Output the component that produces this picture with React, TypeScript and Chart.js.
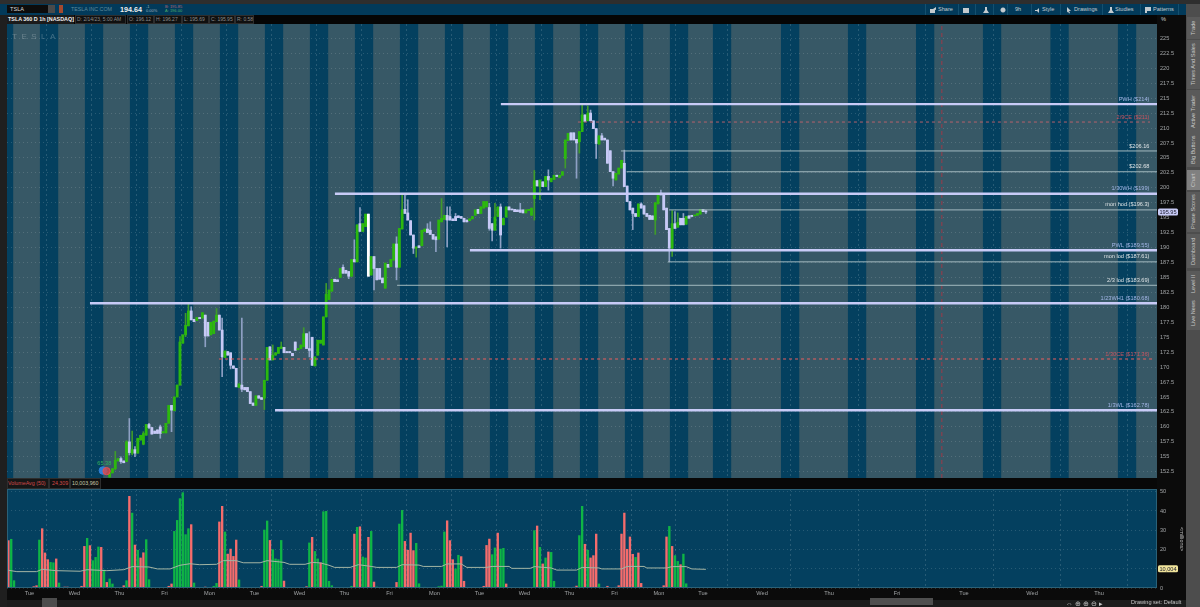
import React, { useEffect, useRef } from "react";
import { Chart, registerables } from "chart.js";

Chart.register(...registerables);

const _ = null;
const FONT = "'Liberation Sans', Arial, sans-serif";

const firstCandleSlot = 36;
const opens = [
  151.6,152.3,153.0,154.3,154.7,154.3,154.2,157.5,155.6,156.2,
  155.6,157.8,157.1,158.6,160.4,159.9,159.3,159.5,160.0,159.0,
  159.0,160.6,163.6,162.7,165.0,167.0,174.0,175.4,176.9,179.4,
  178.0,177.8,178.3,178.2,178.7,177.5,175.4,175.6,177.6,178.7,
  176.2,171.6,172.6,172.4,170.2,169.8,166.6,167.0,166.6,166.6,
  165.9,164.0,163.6,165.2,164.9,164.8,167.8,173.4,171.2,172.0,
  172.3,173.1,173.3,172.6,172.6,172.3,174.2,172.9,173.1,173.4,
  175.6,173.1,175.0,170.2,172.0,174.0,173.7,178.4,181.3,182.7,
  184.7,184.6,185.0,186.7,186.2,186.0,185.2,188.0,187.6,194.0,
  192.7,193.5,195.6,185.4,188.5,186.5,186.5,184.9,183.2,187.2,
  186.8,187.9,190.6,186.7,193.1,196.4,195.8,194.5,192.1,189.9,
  190.3,190.3,192.7,193.1,192.9,192.2,191.8,191.4,194.3,194.7,
  195.4,195.2,194.8,195.2,195.3,195.2,194.9,194.6,194.5,194.8,
  195.4,196.4,195.7,196.6,196.8,196.7,194.0,192.9,195.2,196.8,
  193.8,195.1,196.8,196.4,196.4,196.3,196.3,196.3,195.8,196.2,
  195.4,198.2,201.2,200.2,201.0,200.2,201.9,201.0,201.4,202.1,
  201.7,202.1,204.9,207.9,209.2,209.2,208.1,207.7,209.4,212.2,
  211.2,212.5,211.2,209.9,207.3,208.7,208.3,208.0,206.2,202.7,
  201.3,202.3,203.3,204.1,200.3,197.7,196.6,195.7,195.2,197.3,
  197.0,195.7,195.4,195.3,194.6,197.3,199.1,198.8,196.6,193.2,
  189.9,194.0,193.4,194.9,194.9,193.9,195.3,195.4,195.3,195.4,
  195.6,196.4,196.12,
];
const closes = [
  152.3,153.0,154.4,154.7,154.2,154.0,157.5,155.7,156.2,155.6,
  158.1,158.6,158.9,160.4,159.9,158.8,158.9,158.9,158.9,159.2,
  160.6,163.6,162.8,165.0,167.0,174.2,175.4,177.0,179.4,177.9,
  177.6,178.3,178.1,179.1,175.2,175.2,177.5,177.7,178.7,176.2,
  171.7,172.7,172.0,170.3,169.8,166.7,167.2,166.3,166.2,165.9,
  163.9,163.6,165.2,164.8,164.6,167.8,173.3,171.2,172.0,172.4,
  173.3,173.4,172.4,172.4,172.4,171.9,172.8,173.1,173.7,175.6,
  173.1,172.8,170.3,171.7,174.5,174.5,178.4,182.2,182.9,184.7,
  184.3,184.3,186.5,185.7,185.7,185.2,188.0,187.6,193.8,192.7,
  194.0,195.6,185.2,188.5,186.5,184.6,184.7,184.1,187.4,186.7,
  188.0,190.6,186.7,193.2,196.3,195.7,194.6,192.1,189.9,190.1,
  190.0,192.9,193.1,192.5,192.2,191.4,191.3,194.6,194.9,195.4,
  194.6,194.6,194.5,194.5,195.0,194.9,194.3,194.3,194.8,195.2,
  196.3,195.7,196.8,197.7,197.7,193.2,192.9,195.1,196.8,192.1,
  194.9,196.8,196.3,196.3,196.0,196.0,195.9,195.8,196.3,196.4,
  196.6,201.2,200.3,201.3,200.2,201.9,201.3,201.6,202.1,201.9,
  202.1,202.7,208.0,209.1,208.0,208.0,207.5,209.4,212.2,211.1,
  212.5,211.2,209.9,207.4,208.7,208.0,208.0,204.1,202.7,201.6,
  202.4,203.3,204.6,200.2,197.7,196.3,195.7,195.2,197.3,196.6,
  195.6,195.2,194.7,194.7,197.5,199.1,198.8,196.3,193.0,189.9,
  194.0,193.2,194.2,193.8,193.8,195.2,194.9,195.2,195.4,195.7,
  196.4,196.0,195.95,
];
const highs = [
  152.4,_,155.9,_,155.0,_,157.7,161.4,159.3,156.7,
  _,_,159.2,_,160.6,_,_,_,160.3,_,
  _,_,_,_,_,175.1,_,179.0,180.7,180.1,
  _,_,_,_,_,_,_,_,179.8,_,
  178.2,_,_,_,_,_,_,178.2,_,_,
  _,_,_,_,_,_,_,_,173.7,_,
  _,174.2,_,_,_,_,_,_,_,176.6,
  _,175.9,_,_,_,_,_,184.0,_,_,
  _,_,_,187.1,_,_,_,191.3,_,196.7,
  _,_,_,_,_,_,_,_,_,_,
  _,_,191.8,_,199.0,199.0,198.0,_,_,_,
  _,_,_,194.0,194.3,_,_,_,198.2,_,
  196.8,196.8,_,195.7,_,_,_,_,_,_,
  _,_,_,_,_,197.4,_,197.4,_,197.3,
  _,_,_,_,_,_,197.4,_,_,_,
  _,202.9,_,_,_,_,203.0,_,_,_,
  _,_,_,_,_,_,_,_,214.0,_,
  213.7,213.0,_,_,_,209.1,_,_,_,_,
  _,_,_,206.3,_,_,_,_,_,197.5,
  _,_,_,_,_,_,199.6,_,_,_,
  196.2,196.0,195.8,_,195.7,_,_,_,_,_,
  _,_,196.27,
];
const lows = [
  _,_,152.8,_,153.9,_,_,155.3,155.3,155.0,
  _,_,157.0,_,159.7,_,_,_,158.1,_,
  _,_,159.2,_,_,_,_,175.1,_,_,
  _,_,_,_,173.4,_,_,_,_,_,
  168.4,_,_,169.7,_,_,_,165.9,_,_,
  _,_,_,_,_,162.9,_,_,_,_,
  _,_,_,_,_,_,_,_,_,_,
  _,171.7,_,_,_,_,_,_,_,_,
  _,_,_,_,_,184.8,_,_,_,_,
  _,_,_,_,182.9,_,_,_,_,_,
  _,_,184.6,_,_,_,_,_,189.0,188.4,
  _,_,_,_,_,_,189.3,_,_,_,
  190.1,_,_,_,_,_,_,_,_,_,
  _,_,_,_,_,192.9,191.1,_,_,189.9,
  _,_,_,_,_,_,_,_,_,_,
  _,194.6,_,198.0,_,_,199.6,_,_,_,
  _,_,203.3,_,_,_,201.6,205.8,_,_,
  _,_,_,204.9,_,_,_,_,_,200.3,
  _,_,_,_,_,_,193.0,_,_,_,
  _,_,_,_,192.2,_,_,_,_,187.6,
  188.5,_,_,_,_,_,_,_,_,_,
  _,_,195.69,
];

const volumes = [
  24.6,25.3,3.8,.3,.1,.1,.3,.1,.1,.7,1.2,24.9,30.8,18.2,14.7,13.3,
  13.1,15.1,2.6,.3,.5,.5,.1,.1,.1,.1,.9,21.6,25.8,22,14.2,15.9,
  21.3,21.1,9.3,2.9,4.7,2.1,.3,.2,.1,1.2,3.8,47.6,38.9,22.3,19.6,15.6,
  18.3,25.1,4.3,.3,.1,.1,.1,.1,.1,.9,2.1,29.4,35.1,46.4,49.5,27.7,
  30.8,32.9,2.6,.2,.2,.2,.5,.1,.1,.9,2.4,34.3,42.4,29.1,17.6,20.2,
  16.4,24.9,4.2,.1,.1,.1,.1,.1,.1,.1,.9,30.1,34.8,24.7,19.9,15.1,
  14.7,24.7,3.6,.1,.1,.1,.1,.1,.1,.1,.7,23.4,26.3,19,15.1,13.1,
  39.6,39.8,3.5,1.2,.3,.2,.1,.1,.1,.1,.9,28,31.5,31.8,16.1,15.6,
  26.3,29.4,3.1,.5,.1,.1,.1,.1,.1,.1,2.9,33.2,40.3,24.2,19.6,28.5,
  19.4,23.2,2.2,.3,.4,.1,.1,.1,.1,.7,1,29.1,34.9,24.6,14.7,9.9,
  17,16.3,3.5,.1,.1,.1,.1,.1,.1,.9,22.1,25.4,17.3,20.8,28.5,20.2,
  20.6,2.1,.1,.1,.1,.1,.1,.1,.1,.1,.3,29.8,32.2,21.1,12.5,15.6,
  18.7,18.5,3.5,.1,.1,.1,.4,.3,.1,.4,1,27.2,42.4,22.7,19.6,15.6,
  16.8,28,2.1,.2,.1,.9,.3,.3,.4,1.2,28,38.9,20.1,26.5,17.5,15.9,
  18.2,2.4,.1,.1,.1,.1,.1,.1,.2,1.2,26.5,32,21.6,16.8,13.8,12.1,
  17.6,2.2,.1,.1,.1,.1,.1,.1,.1,
];
const volumeUp = [
  0,1,1,0,0,0,0,1,1,0,0,1,0,0,0,1,
  1,0,1,0,0,0,1,1,1,1,0,0,1,0,1,1,
  1,0,1,0,1,1,1,1,1,0,1,0,1,0,1,0,
  0,1,1,0,1,1,1,1,1,0,0,1,1,1,1,1,
  1,0,1,1,1,1,0,1,1,1,1,0,0,1,0,0,
  0,0,1,1,1,1,1,1,1,1,0,1,1,0,1,1,
  1,1,0,1,1,1,1,1,1,1,0,1,0,1,1,0,
  1,1,1,1,1,1,1,1,1,1,1,0,1,0,1,1,
  0,1,0,1,1,1,1,1,1,1,0,1,1,0,0,0,
  0,1,1,1,1,1,1,1,1,1,1,1,0,0,0,1,
  1,0,0,1,1,1,1,1,1,0,0,0,1,1,0,1,
  1,0,1,1,1,1,1,1,1,1,0,1,0,1,0,1,
  0,1,1,1,1,1,1,1,1,0,0,1,1,0,1,0,
  0,0,1,1,1,0,0,0,0,0,0,0,0,0,0,1,
  0,0,1,1,1,1,1,1,0,0,0,1,0,1,1,0,
  1,1,1,1,1,1,1,1,1,
];
const avgSlots = [0,3,10,12,17,25.5,28,35,41,44,50,53,57.5,61,64.6,68,74,76.4,81,83.5,89.5,92,98,100,105.5,108,111,114,116,121.5,124.4,129,131,138,140,146,147.5,154,156,161,163,170,172,178,179,185.5,187,193,195,202,204,210,211,218,220,226,227,234,236,241,243,248];
const avgValues = [9.2,8.5,8.5,9.7,9.0,8.7,9.5,9.0,9.5,11.1,10.9,9.9,9.9,11.8,12.6,12.1,12.3,14.2,14.2,13.1,13.1,14.2,13.3,12.3,12.3,13.3,13.0,11.8,10.7,10.7,12.1,11.2,10.7,10.7,12.1,11.9,11.2,11.2,12.5,12.5,10.7,10.7,11.2,11.2,10.2,10.2,11.1,10.4,9.3,9.3,10.7,10.4,9.9,9.9,11.2,11.2,10.4,10.4,11.1,11.1,9.9,9.7];

const dayLines = [6.2,22.2,38.2,54.2,70.2,86.2,102.2,118.2,134.2,150.2,166.2,182.2,198.2,214.2,230,245.7,266.7,290.5,314.7,338.5,362.7,386.5];
const dayLabels = ["Tue","Wed","Thu","Fri","Mon","Tue","Wed","Thu","Fri","Mon","Tue","Wed","Thu","Fri","Mon","Tue","Wed","Thu","Fri","Tue","Wed","Thu"];
const sessionStarts = [-4.3,11.7,27.7,43.7,59.7,75.7,91.7,107.7,123.7,139.7,155.7,171.7,187.7,203.7,219.7,235.7,251,275.2,299,323.2,347,371,395];
const sessionLength = 6.5;

const thickLevels = [
  { label: "PWH ($214)", price: 214, from: 175.6 },
  { label: "1/30WH ($199)", price: 199, from: 116.6 },
  { label: "PWL ($189.55)", price: 189.55, from: 164.6 },
  { label: "1/23WH1 ($180.68)", price: 180.68, from: 29.5 },
  { label: "1/3WL ($162.78)", price: 162.78, from: 95.3 },
];
const thinLevels = [
  { label: "$206.16", price: 206.16, from: 218.3 },
  { label: "$202.68", price: 202.68, from: 220.3 },
  { label: "mon hod ($196.3)", price: 196.3, from: 235.4 },
  { label: "mon lod ($187.61)", price: 187.61, from: 235 },
  { label: "2/3 lod ($183.69)", price: 183.69, from: 138.7 },
];
const dashedLevels = [
  { label: "2/9CE ($211)", price: 211, from: 203, to: 406.4, color: "#b5616c" },
  { label: "1/30CE ($171.36)", price: 171.36, from: 75.4, to: 408.2, color: "#ea5f5f" },
];
const markerSlot = 332.4;
const xMax = 408.9;
const priceMin = 151.45;
const priceMax = 227.4;
const volumeMax = 51.4;
const lastPrice = 195.95;
const lastAverage = 10.004;
const labelSlot = 406.2;

const tickColor = "#a2a5a7";
const gridColor = "rgba(255,255,255,0.14)";
const SMALL = 5.6;

function fitY(s: any) { s.width = 43; s.paddingTop = 0; s.paddingBottom = 0; }
function tag(ctx: any, x: number, y: number, text: string, fill: string) {
  ctx.save();
  ctx.fillStyle = fill;
  ctx.beginPath();
  ctx.roundRect(x, y - 3.5, 20, 7, 1.5);
  ctx.fill();
  ctx.fillStyle = "#1a1a2a";
  ctx.font = `${SMALL}px ${FONT}`;
  ctx.textAlign = "center";
  ctx.textBaseline = "middle";
  ctx.fillText(text, x + 10, y + 0.3);
  ctx.restore();
}

const xGrid = { color: gridColor, drawTicks: false, lineWidth: 1 };

function priceConfig(): any {
  const wickData = opens.map((o, i) => ({
    x: firstCandleSlot + i + 0.5,
    y: [lows[i] ?? Math.min(o, closes[i]), highs[i] ?? Math.max(o, closes[i])],
  }));
  const bodyData = opens.map((o, i) => ({ x: firstCandleSlot + i + 0.5, y: [o, closes[i]] }));
  const isUp = (i: number) => closes[i] >= opens[i];
  const levelSets = [
    ...thickLevels.map((l) => ({
      type: "line", data: [{ x: l.from, y: l.price }, { x: xMax, y: l.price }],
      borderColor: "#c8cbf7", borderWidth: 2.4, pointRadius: 0, order: 0,
    })),
    ...thinLevels.map((l) => ({
      type: "line", data: [{ x: l.from, y: l.price }, { x: xMax, y: l.price }],
      borderColor: "#a3b9bf", borderWidth: 1, pointRadius: 0, order: 0,
    })),
    ...dashedLevels.map((l) => ({
      type: "line", data: [{ x: l.from, y: l.price }, { x: l.to, y: l.price }],
      borderColor: l.color, borderWidth: 1, borderDash: [3, 3], pointRadius: 0, order: 0,
    })),
    {
      type: "line", data: [{ x: markerSlot, y: priceMin }, { x: markerSlot, y: priceMax }],
      borderColor: "#9a3a48", borderWidth: 1, borderDash: [4, 3], pointRadius: 0, order: 0,
    },
    {
      type: "line", showLine: false, data: [{ x: 35.4, y: 152.6 }],
      pointRadius: 3.6, pointBackgroundColor: "rgba(230,70,70,0.75)", pointBorderColor: "#e65050", order: 0,
    },
    {
      type: "line", showLine: false, data: [{ x: 34.1, y: 152.7 }],
      pointRadius: 3.8, pointBackgroundColor: "#2f7fd6", pointBorderColor: "#2f7fd6", order: 0,
    },
  ];
  return {
    type: "bar",
    data: {
      datasets: [
        ...levelSets,
        {
          data: bodyData, barThickness: 2.2, minBarLength: 1, grouped: false, order: 1,
          backgroundColor: opens.map((_o, i) => (i === 92 ? "#ffffff" : isUp(i) ? "#2cb80e" : "#c7c9f6")),
        },
        {
          data: wickData, barThickness: 1, grouped: false, order: 2,
          backgroundColor: opens.map((_o, i) => (isUp(i) ? "#3f9a2b" : "#8ea0c4")),
        },
      ],
    },
    options: {
      responsive: false, animation: false, devicePixelRatio: 1,
      layout: { padding: 0, autoPadding: false },
      plugins: { legend: { display: false }, tooltip: { enabled: false } },
      scales: {
        x: {
          type: "linear", min: 0, max: xMax, offset: false,
          grid: xGrid, border: { display: false, dash: [2, 3] },
          ticks: { display: false },
          afterBuildTicks: (s: any) => { s.ticks = dayLines.map((value) => ({ value })); },
          afterFit: (s: any) => { s.height = 0; s.paddingLeft = 0; s.paddingRight = 0; },
        },
        y: {
          position: "right", min: priceMin, max: priceMax,
          grid: { color: gridColor, drawTicks: false },
          border: { display: false, dash: [1, 3] },
          ticks: {
            stepSize: 2.5, includeBounds: false, color: tickColor, padding: 3,
            font: { size: SMALL, family: FONT }, callback: (v: number) => String(v),
          },
          afterFit: fitY,
        },
      },
    },
    plugins: [{
      id: "sessions",
      beforeDraw(c: any) {
        const { ctx, chartArea: a, scales } = c;
        ctx.save();
        ctx.beginPath(); ctx.rect(a.left, a.top, a.right - a.left, a.bottom - a.top); ctx.clip();
        ctx.fillStyle = "#375866";
        ctx.fillRect(a.left, a.top, a.right - a.left, a.bottom - a.top);
        ctx.fillStyle = "#04405f";
        for (const s of sessionStarts) {
          const x0 = scales.x.getPixelForValue(s);
          const x1 = scales.x.getPixelForValue(s + sessionLength);
          ctx.fillRect(x0, a.top, x1 - x0, a.bottom - a.top);
        }
        ctx.restore();
      },
      afterDraw(c: any) {
        const { ctx, chartArea: a, scales } = c;
        const lx = scales.x.getPixelForValue(labelSlot);
        ctx.save();
        ctx.font = `${SMALL}px ${FONT}`;
        ctx.textAlign = "right";
        ctx.textBaseline = "middle";
        for (const l of thickLevels) { ctx.fillStyle = "#a3b6e6"; ctx.fillText(l.label, lx, scales.y.getPixelForValue(l.price) - 5); }
        for (const l of thinLevels) { ctx.fillStyle = "#dfe4e6"; ctx.fillText(l.label, lx, scales.y.getPixelForValue(l.price) - 5); }
        for (const l of dashedLevels) { ctx.fillStyle = "#c9545f"; ctx.fillText(l.label, lx, scales.y.getPixelForValue(l.price) - 5); }
        ctx.textAlign = "center";
        ctx.fillStyle = "#2fb55a";
        ctx.fillText("65.38", scales.x.getPixelForValue(34.6), scales.y.getPixelForValue(153.9));
        ctx.textAlign = "left";
        ctx.fillStyle = "rgba(255,255,255,0.24)";
        ctx.font = `8px ${FONT}`;
        (ctx as any).letterSpacing = "4.5px";
        ctx.fillText("TESLA", a.left + 5, a.top + 13);
        (ctx as any).letterSpacing = "0px";
        ctx.restore();
        tag(ctx, a.right + 1, scales.y.getPixelForValue(lastPrice), String(lastPrice), "#c9ccf8");
      },
    }],
  };
}

function volumeConfig(): any {
  return {
    type: "bar",
    data: {
      datasets: [
        {
          type: "line",
          data: avgSlots.map((x, i) => ({ x: x + 0.5, y: avgValues[i] })),
          borderColor: "#a4b5a4", borderWidth: 1, pointRadius: 0, order: 0,
        },
        {
          data: volumes.map((v, i) => ({ x: i + 0.5, y: v })),
          barThickness: 1.7, order: 1,
          backgroundColor: volumeUp.map((u) => (u ? "#0fb545" : "#f56c6c")),
        },
      ],
    },
    options: {
      responsive: false, animation: false, devicePixelRatio: 1,
      layout: { padding: 0, autoPadding: false },
      plugins: { legend: { display: false }, tooltip: { enabled: false } },
      scales: {
        x: {
          type: "linear", min: 0, max: xMax, offset: false,
          grid: xGrid, border: { display: false, dash: [2, 3] },
          ticks: {
            color: tickColor, padding: 2, labelOffset: 5, maxRotation: 0, autoSkip: false,
            font: { size: SMALL, family: FONT },
            callback: (_v: number, i: number) => dayLabels[i],
          },
          afterBuildTicks: (s: any) => { s.ticks = dayLines.map((value) => ({ value })); },
          afterFit: (s: any) => { s.height = 12; s.paddingLeft = 0; s.paddingRight = 0; },
        },
        y: {
          position: "right", min: 0, max: volumeMax,
          grid: { color: gridColor, drawTicks: false },
          border: { display: false, dash: [1, 3] },
          ticks: {
            stepSize: 10, includeBounds: false, color: tickColor, padding: 3,
            font: { size: SMALL, family: FONT },
          },
          afterFit: fitY,
        },
      },
    },
    plugins: [{
      id: "volumeBackdrop",
      beforeDraw(c: any) {
        const { ctx, chartArea: a } = c;
        ctx.save();
        ctx.fillStyle = "#04405f";
        ctx.fillRect(a.left, a.top, a.right - a.left, a.bottom - a.top);
        ctx.restore();
      },
      afterDraw(c: any) {
        const { ctx, chartArea: a, scales } = c;
        ctx.save();
        ctx.strokeStyle = "#2a6178";
        ctx.strokeRect(a.left + 0.5, a.top + 0.5, a.right - a.left - 1, a.bottom - a.top - 1);
        ctx.restore();
        tag(ctx, a.right + 1, scales.y.getPixelForValue(lastAverage), "10,004", "#f0e39a");
      },
    }],
  };
}

const headerCells = [
  { x: 77, w: 51, t: "D: 2/14/23, 5:00 AM" },
  { x: 129, w: 27, t: "O: 196.12" },
  { x: 156, w: 28, t: "H: 196.27" },
  { x: 184, w: 27, t: "L: 195.69" },
  { x: 211, w: 26, t: "C: 195.95" },
  { x: 237, w: 19, t: "R: 0.58" },
];
const sideTabs = [
  { t: "Trade", y: 20, h: 16 },
  { t: "Times And Sales", y: 43, h: 43 },
  { t: "Active Trader", y: 93, h: 37 },
  { t: "Big Buttons", y: 135, h: 29 },
  { t: "Chart", y: 173, h: 14, active: true },
  { t: "Phase Scores", y: 195, h: 34 },
  { t: "Dashboard", y: 237, h: 28 },
  { t: "Level II", y: 274, h: 19 },
  { t: "Live News", y: 299, h: 28 },
];
const toolbarItems = [
  { t: "Share", x: 938 },
  { t: "9h", x: 1015 },
  { t: "Style", x: 1042 },
  { t: "Drawings", x: 1074 },
  { t: "Studies", x: 1115 },
  { t: "Patterns", x: 1153 },
];
const toolbarGlyphs = [
  { x: 929, d: "M1 3h5v4H1z M4 3l3-2v3" },
  { x: 962, d: "M1 2h6v5H1z M3 2v5" },
  { x: 982, d: "M3 1h2v3l2 3H1l2-3z" },
  { x: 999, d: "M4 1.5a2.5 2.5 0 1 0 .01 0z" },
  { x: 1034, d: "M1 4h2l2-2v5L3 5H1z" },
  { x: 1065, d: "M2 1l4 4H4l1 2-1 .5-1-2-1 1z" },
  { x: 1107, d: "M3 1h2v3l2 3H1l2-3z" },
  { x: 1144, d: "M1 1h6v4H3v2H1z" },
];
const toolbarDividers = [925, 958, 975, 993, 1007, 1031, 1060, 1102, 1140, 1178];

function T(p: any) {
  return (
    <span style={{
      position: "absolute", left: p.x, top: p.y, color: p.c || "#b9bcbf", fontSize: p.s || SMALL,
      fontWeight: p.b ? 700 : 400, whiteSpace: "nowrap", lineHeight: 1, fontFamily: FONT,
    }}>{p.children}</span>
  );
}
function Box(p: any) {
  return <div style={{ position: "absolute", left: p.x, top: p.y, width: p.w, height: p.h, background: p.c, border: p.b, boxSizing: "border-box" }} />;
}

export default function App() {
  const priceRef = useRef<HTMLCanvasElement>(null);
  const volumeRef = useRef<HTMLCanvasElement>(null);
  useEffect(() => {
    const a = new Chart(priceRef.current!, priceConfig());
    const b = new Chart(volumeRef.current!, volumeConfig());
    return () => { a.destroy(); b.destroy(); };
  }, []);
  return (
    <div style={{ position: "fixed", left: 0, top: 0, width: 1200, height: 607, background: "#0b0b0b", overflow: "hidden", fontFamily: FONT }}>
      <Box x={0} y={0} w={1200} h={4} c="#2e2e2e" />
      <Box x={0} y={4} w={1186} h={11} c="#023a5a" />
      <Box x={0} y={15} w={7} h={592} c="#1f1f1f" />
      <Box x={7} y={15} w={1150} h={9} c="#050505" />
      <Box x={7} y={478} w={1150} h={11} c="#080808" />
      <Box x={7} y={5} w={44} h={8} c="#0c0c0c" />
      <Box x={48} y={5} w={7} h={8} c="#4a4a4a" />
      <Box x={59} y={5} w={4} h={8} c="#a5492e" />
      <T x={10} y={6.5} c="#d8d8d8">TSLA</T>
      <T x={71} y={6.5} c="#5f8a9b" s={5.3}>TESLA INC COM</T>
      <T x={120} y={5.5} c="#f1f1f1" s={7.2} b>194.64</T>
      <T x={146} y={4.5} c="#9fb0bb" s={4}>-1</T>
      <T x={146} y={9} c="#9fb0bb" s={4}>0.00%</T>
      <T x={165} y={4.5} c="#b66b78" s={4}>B: 195.85</T>
      <T x={165} y={9} c="#4dae6c" s={4}>A: 196.00</T>
      {toolbarDividers.map((x) => <Box key={x} x={x} y={4} w={1} h={11} c="#14506f" />)}
      {toolbarItems.map((it) => <T key={it.t} x={it.x} y={6.5} c="#c5cbcf">{it.t}</T>)}
      {toolbarGlyphs.map((g) => (
        <svg key={g.x} width={8} height={8} viewBox="0 0 8 8" style={{ position: "absolute", left: g.x, top: 5.5 }}>
          <path d={g.d} fill="#c3cace" />
        </svg>
      ))}
      <Box x={7} y={15} w={67} h={9} c="#1b1b1b" />
      <T x={8} y={16.8} c="#f0f0f0" b s={5.4}>TSLA 360 D 1h [NASDAQ]</T>
      {headerCells.map((h) => (
        <React.Fragment key={h.t}>
          <Box x={h.x - 2} y={15} w={h.w} h={9} c="#101010" b="1px solid #2d2d2d" />
          <T x={h.x} y={17} c="#8c8c8c" s={5}>{h.t}</T>
        </React.Fragment>
      ))}
      <T x={1161} y={17} c="#cfcfcf">%</T>
      <canvas ref={priceRef} width={1193} height={454} style={{ position: "absolute", left: 7, top: 24 }} />
      <canvas ref={volumeRef} width={1193} height={111} style={{ position: "absolute", left: 7, top: 489 }} />
      <Box x={7} y={478} w={42} h={11} c="#161616" b="1px solid #2d2d2d" />
      <T x={8} y={481} c="#d24a4a" s={5.3}>VolumeAvg (50)</T>
      <Box x={49} y={478} w={21} h={11} c="#101010" b="1px solid #2d2d2d" />
      <T x={52} y={481} c="#d24a4a" s={5.3}>24,309</T>
      <Box x={70} y={478} w={31} h={11} c="#101010" b="1px solid #2d2d2d" />
      <T x={72} y={481} c="#c8c8a8" s={5.3}>10,003,960</T>
      <Box x={1186} y={4} w={14} h={603} c="#4d4d4d" />
      {sideTabs.map((tab) => (
        <React.Fragment key={tab.t}>
          <Box x={1187} y={tab.y - 3} w={13} h={tab.h + 6} c={tab.active ? "#808080" : "#5a5a5a"} />
          <span style={{
            position: "absolute", left: 1188, top: tab.y, height: tab.h, width: 10, writingMode: "vertical-rl",
            transform: "rotate(180deg)", fontSize: 5.6, color: "#c9c9c9", textAlign: "center", whiteSpace: "nowrap", lineHeight: "10px", fontFamily: FONT,
          }}>{tab.t}</span>
        </React.Fragment>
      ))}
      <span style={{
        position: "absolute", left: 1178, top: 527, height: 24, width: 8, writingMode: "vertical-rl", fontSize: 5.4, color: "#b5b5b5",
        whiteSpace: "nowrap", lineHeight: "8px", textAlign: "center", fontFamily: FONT,
      }}>&lt;millions&gt;</span>
      <Box x={7} y={600} w={1179} h={7} c="#1c1c1c" />
      <Box x={42} y={598} w={15} h={9} c="#4d4d4d" />
      <Box x={870} y={598} w={63} h={7} c="#4f4f4f" />
      <T x={1131} y={600} c="#c3c3c3" s={5.6}>Drawing set: Default</T>
      <T x={1066} y={599.5} c="#c3c3c3" s={7}>⇔ ⊕ ⊕ ⊖ ▸</T>
    </div>
  );
}
